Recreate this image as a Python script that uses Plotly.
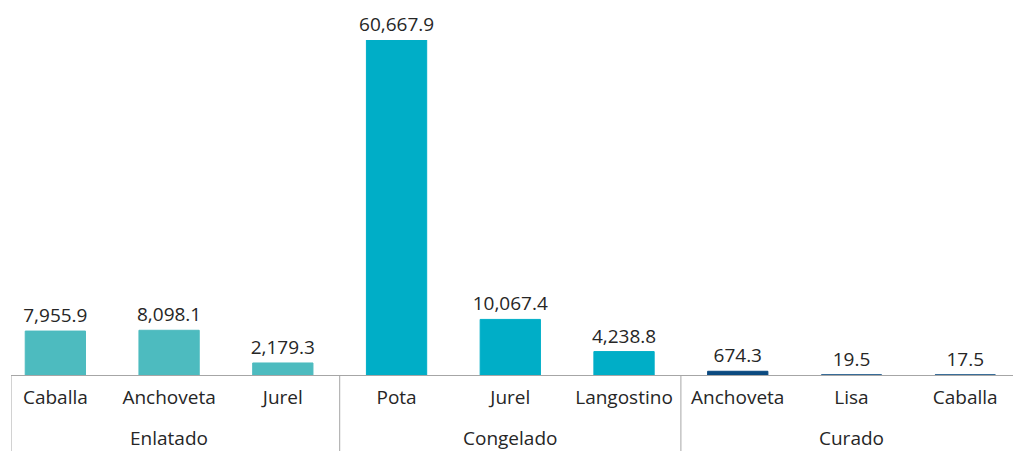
import plotly.graph_objects as go

group_names = ["Enlatado", "Congelado", "Curado"]
groups = ["Enlatado", "Enlatado", "Enlatado",
          "Congelado", "Congelado", "Congelado",
          "Curado", "Curado", "Curado"]
species = ["Caballa", "Anchoveta", "Jurel",
           "Pota", "Jurel", "Langostino",
           "Anchoveta", "Lisa", "Caballa"]
values = [7955.9, 8098.1, 2179.3,
          60667.9, 10067.4, 4238.8,
          674.3, 19.5, 17.5]
group_colors = {"Enlatado": "#4DBBBF", "Congelado": "#00AEC7", "Curado": "#0B4A80"}
colors = [group_colors[g] for g in groups]
idx = list(range(len(species)))

FONT = "Open Sans"
TXT = "#262626"
LINE = "#A6A6A6"

fig = go.Figure(go.Bar(
    x=idx,
    y=values,
    width=0.53,
    marker=dict(color=colors, line=dict(color=colors, width=1)),
    texttemplate="%{y:,.1f}",
    textposition="outside",
    constraintext="none",
    cliponaxis=False,
    textfont=dict(family=FONT, size=19, color=TXT),
    hoverinfo="skip",
))

# group dividers and group labels, positioned on the category index scale
x_lo, x_hi = -0.39, 8.42
shapes = []
annotations = []
for gi, g in enumerate(group_names):
    members = [i for i, gg in enumerate(groups) if gg == g]
    left = max(min(members) - 0.5, x_lo)
    shapes.append(dict(type="line", xref="x", yref="paper",
                       x0=left, x1=left, y0=0, y1=-0.23,
                       line=dict(color=LINE, width=1)))
    annotations.append(dict(x=sum(members) / len(members), y=-0.188,
                            xref="x", yref="paper", text=g,
                            showarrow=False, yanchor="middle",
                            font=dict(family=FONT, size=19, color=TXT)))

fig.update_layout(
    width=1013, height=451,
    margin=dict(l=11, r=0, t=40, b=76, autoexpand=False),
    paper_bgcolor="white", plot_bgcolor="white",
    showlegend=False,
    font=dict(family=FONT, size=19, color=TXT),
    shapes=shapes,
    annotations=annotations,
)
fig.update_xaxes(
    range=[x_lo, x_hi],
    tickmode="array", tickvals=idx, ticktext=species,
    showline=True, linecolor=LINE, linewidth=1,
    showgrid=False, zeroline=False,
    ticks="outside", ticklen=5, tickcolor="rgba(0,0,0,0)",
    tickfont=dict(family=FONT, size=19, color=TXT),
    automargin=False,
)
fig.update_yaxes(
    range=[0, 60667.9], showticklabels=False, showgrid=False,
    zeroline=False, showline=False, automargin=False,
)

fig.write_html("out.html", config={"displayModeBar": False},
               post_script="document.body.style.margin='0';")
